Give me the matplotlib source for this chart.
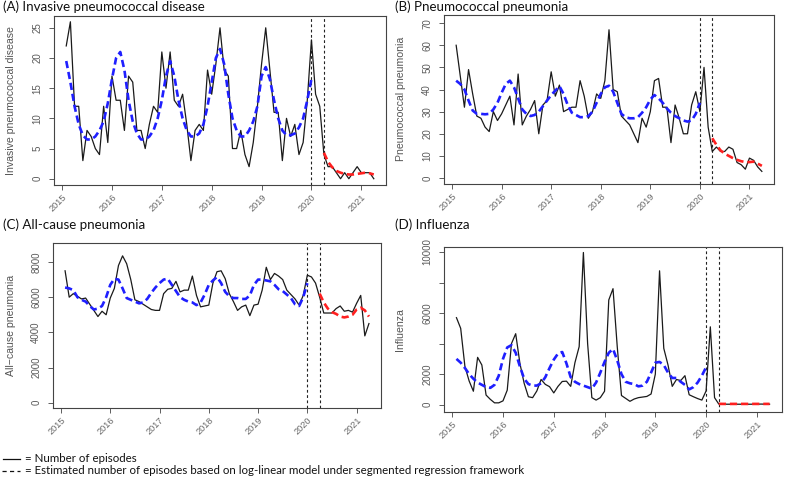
import matplotlib
matplotlib.use("Agg")
import matplotlib.pyplot as plt
from matplotlib.lines import Line2D

plt.rcParams["lines.scale_dashes"] = False

# ---------------- data ----------------
n_months = 75                      # Jan 2015 .. Mar 2021 (plotted at month end)
start_year = 2015
interventions = [2020.0, 2020.25]  # vertical dashed lines

ipd_obs = [22, 26, 12, 12, 3, 8, 7, 5, 4, 12, 6, 17, 13, 13, 8, 17, 16, 8, 8, 5,
           9, 12, 11, 21, 15, 21, 13, 12, 14, 9, 3, 8, 9, 8, 18, 14, 19, 25, 18, 17,
           5, 5, 8, 4, 2, 6, 12, 19, 25, 18, 11, 11, 3, 10, 7, 9, 4, 6, 13, 23,
           14, 12, 4, 2, 2, 1, 0, 1, 0, 1, 2, 1, 1, 1, 0]
ipd_pre = [19.5, 16, 12, 9, 7.2, 6.5, 6.5, 7, 8, 9.5, 12.5, 16.5, 20, 21, 18, 13, 9.5, 7.5, 6.5, 6.5,
           7, 8, 10, 13, 17, 19.5, 17, 13, 10, 8, 7, 7, 7.5, 9, 12, 16, 20, 21.5, 19, 14,
           10, 8, 7, 7, 8, 9.5, 12, 17, 18.5, 16.5, 13, 10, 8, 7.2, 7.2, 7.5, 8.5, 10, 13, 16.5]
ipd_post = [4.3, 2.8, 1.9, 1.3, 1.0, 0.8, 0.7, 0.7, 0.8, 0.9, 1.0, 0.9, 0.7]

pp_obs = [60, 46, 32, 49, 38, 28, 27, 23, 21, 30, 26, 29, 33, 37, 24, 47, 24, 28, 31, 35,
          20, 33, 35, 48, 37, 42, 30, 31, 32, 32, 44, 37, 27, 30, 38, 36, 44, 67, 40, 39,
          28, 26, 24, 20, 16, 27, 23, 30, 44, 45, 32, 32, 16, 33, 27, 20, 20, 33, 39, 30,
          50, 23, 12, 14, 12, 12, 14, 13, 7, 6, 4, 9, 8, 5, 3]
pp_pre = [44, 42.5, 40, 35, 30.5, 29, 29, 28.8, 29, 31, 34, 38.5, 42.5, 44, 41, 36, 31, 29, 28, 28.5,
          30, 32.5, 35, 37.5, 39.5, 41.5, 38, 33, 29.5, 28.5, 27.5, 27.5, 28, 30, 34, 38, 41, 41.7, 39, 34,
          29, 27.5, 27, 27, 27.5, 29.5, 32, 35.5, 37.5, 36, 34, 31.5, 29.5, 28, 27, 26, 25.5, 26, 29, 34]
pp_post = [18, 15, 12.5, 11, 10, 9, 8.2, 7.6, 7.2, 7.2, 7.4, 6.5, 5.5]

acp_obs = [7500, 6000, 6200, 6050, 5900, 5950, 5600, 5250, 4900, 5200,
           5000, 5950, 6500, 7800, 8350, 7900, 7000, 5850, 5750, 5600,
           5450, 5300, 5250, 5250, 6200, 6450, 6500, 6900, 6300, 6400,
           6400, 7200, 6100, 5450, 5500, 5550, 6800, 7450, 7500, 7050,
           6200, 5750, 5250, 5450, 5550, 4950, 5550, 5600, 6400, 7700,
           7000, 7350, 7200, 7000, 6400, 6150, 5900, 5550, 6100, 7250,
           7150, 6800, 6000, 5100, 5100, 5100, 5350, 5500, 5200, 5250,
           5150, 5650, 6100, 3800, 4500]
acp_pre = [6550, 6500, 6400, 6000, 5850, 5750, 5500, 5300, 5350, 5500,
           6000, 6700, 7050, 7000, 6500, 5950, 5850, 5750, 5650, 5700,
           5900, 6250, 6550, 6800, 7000, 7050, 6700, 6350, 6000, 5850,
           5750, 5700, 5550, 5700, 6150, 6700, 6950, 7150, 6800, 6300,
           6050, 5950, 5950, 5900, 5900, 6100, 6700, 7000, 7000, 6950,
           6900, 6700, 6450, 6350, 6150, 5950, 5600, 5500, 6000, 6800]
acp_post = [6200, 5700, 5350, 5150, 5050, 4900, 4850, 4900, 5000, 5300, 5400, 5250, 4900]

flu_obs = [5700, 5000, 2500, 1550, 880, 3100, 2600, 630, 350, 120,
           120, 250, 950, 4000, 4650, 2700, 1400, 520, 460, 900,
           1650, 1330, 1180, 770, 1200, 1520, 1540, 1200, 2750, 3800,
           9970, 4000, 460, 300, 460, 880, 6860, 7600, 3800, 600,
           410, 220, 370, 460, 500, 540, 700, 2000, 8770, 3690,
           2600, 1200, 1650, 1580, 1900, 650, 520, 400, 300, 900,
           5100, 460, 40, 40, 30, 30, 30, 30, 30, 30,
           30, 30, 40, 30, 30]
flu_pre = [3000, 2750, 2400, 2000, 1700, 1450, 1300, 1150, 1100, 1300,
           1900, 3000, 3750, 3900, 3400, 2500, 1700, 1350, 1250, 1250,
           1400, 1800, 2400, 2950, 3350, 3450, 2700, 1800, 1500, 1350,
           1250, 1150, 1050, 1450, 2100, 2800, 3400, 3650, 2900, 2000,
           1500, 1400, 1350, 1200, 1250, 1500, 2100, 2750, 2800, 2600,
           2100, 1750, 1750, 1500, 1300, 1000, 1150, 1450, 1900, 2450]
flu_post = [55, 50, 50, 50, 50, 50, 50, 50, 50, 50, 50, 50, 50]

year_ticks = [2015, 2016, 2017, 2018, 2019, 2020, 2021]

titles = ["(A) Invasive pneumococcal disease", "(B) Pneumococcal pneumonia",
          "(C) All-cause pneumonia", "(D) Influenza"]
ylabels = ["Invasive pneumococcal disease", "Pneumococcal pneumonia",
           "All\u2212cause pneumonia", "Influenza"]
yticks = [[0, 5, 10, 15, 20, 25], [0, 10, 20, 30, 40, 50, 60, 70],
          [0, 2000, 4000, 6000, 8000], [0, 2000, 4000, 6000, 8000, 10000]]
yticklabels = [["0", "5", "10", "15", "20", "25"],
               ["0", "10", "20", "30", "40", "50", "60", "70"],
               ["0", "2000", "4000", "6000", "8000"],
               ["0", "2000", "", "6000", "", "10000"]]
legend_texts = ["= Number of episodes",
                "= Estimated number of episodes based on log-linear model under segmented regression framework"]

# ---------------- layout ----------------
W, H = 788, 478
fig = plt.figure(figsize=(W / 100, H / 100), dpi=100)

def fx(p):
    return p / W

def fy(p):
    return 1 - p / H

boxes = [(54, 15.5, 386, 185), (444, 14.5, 774, 184),
         (53, 243, 381, 408), (444, 247, 782, 412)]
ylims = [(-1.04, 27.04), (-2.7, 73.9), (-300, 9080), (-480, 10330)]
title_pos = [(3, 11), (395, 11), (3, 229), (395, 229)]
ylabel_x = [11, 401, 11, 400]

x_all = [start_year + (i + 1) / 12 for i in range(n_months)]
series = [(ipd_obs, ipd_pre, ipd_post), (pp_obs, pp_pre, pp_post),
          (acp_obs, acp_pre, acp_post), (flu_obs, flu_pre, flu_post)]

tick_col = "#5a5a5a"
for k in range(4):
    x0, y0, x1, y1 = boxes[k]
    ax = fig.add_axes([fx(x0), fy(y1), (x1 - x0) / W, (y1 - y0) / H])
    obs, pre, post = series[k]
    x_pre = x_all[:len(pre)]
    x_post = x_all[n_months - len(post):]
    ax.plot(x_all, obs, color="#1a1a1a", lw=0.9, zorder=3)
    ax.plot(x_pre, pre, color="#1f1fff", lw=1.9, dashes=(5.2, 2.8), zorder=4)
    ax.plot(x_post, post, color="#ff2020", lw=1.9, dashes=(5.2, 2.8), zorder=4)
    for v in interventions:
        ax.axvline(v, color="#222222", lw=0.8, dashes=(2, 1.8), zorder=2)
    ax.set_xlim(2014.838, 2021.495)
    ax.set_ylim(*ylims[k])
    ax.set_xticks(year_ticks)
    ax.set_xticklabels([str(y) for y in year_ticks], rotation=45, ha="right",
                       va="top", rotation_mode="anchor", fontsize=6.6,
                       color="#6a6a6a", family="Liberation Sans")
    ax.set_yticks(yticks[k])
    ax.set_yticklabels(yticklabels[k], rotation=90, va="center", fontsize=7,
                       color=tick_col, family="Liberation Sans")
    ax.tick_params(axis="both", direction="out", length=3.5, width=0.6,
                   color="#444444")
    ax.tick_params(axis="y", pad=5)
    ax.tick_params(axis="x", pad=2)
    for s in ax.spines.values():
        s.set_color("#444444")
        s.set_linewidth(0.8)
    fig.text(fx(ylabel_x[k]), fy((y0 + y1) / 2), ylabels[k], rotation=90,
             ha="center", va="center", fontsize=7.6, color="#555555",
             family="Liberation Sans")
    tx, ty = title_pos[k]
    fig.text(fx(tx), fy(ty), titles[k], ha="left", va="baseline",
             fontsize=9.6, color="#111111", family="Lato")

# ---------------- legend ----------------
leg_y = [459, 471]
fig.add_artist(Line2D([fx(3), fx(20)], [fy(leg_y[0]), fy(leg_y[0])],
                      color="#111111", lw=0.9))
fig.add_artist(Line2D([fx(2), fx(20)], [fy(leg_y[1]), fy(leg_y[1])],
                      color="#111111", lw=0.9, dashes=(3, 2.4)))
for t, yy in zip(legend_texts, leg_y):
    fig.text(fx(25), fy(yy), t, ha="left", va="center", fontsize=8.3,
             color="#111111", family="Lato")

fig.savefig("out.png", dpi=100)
